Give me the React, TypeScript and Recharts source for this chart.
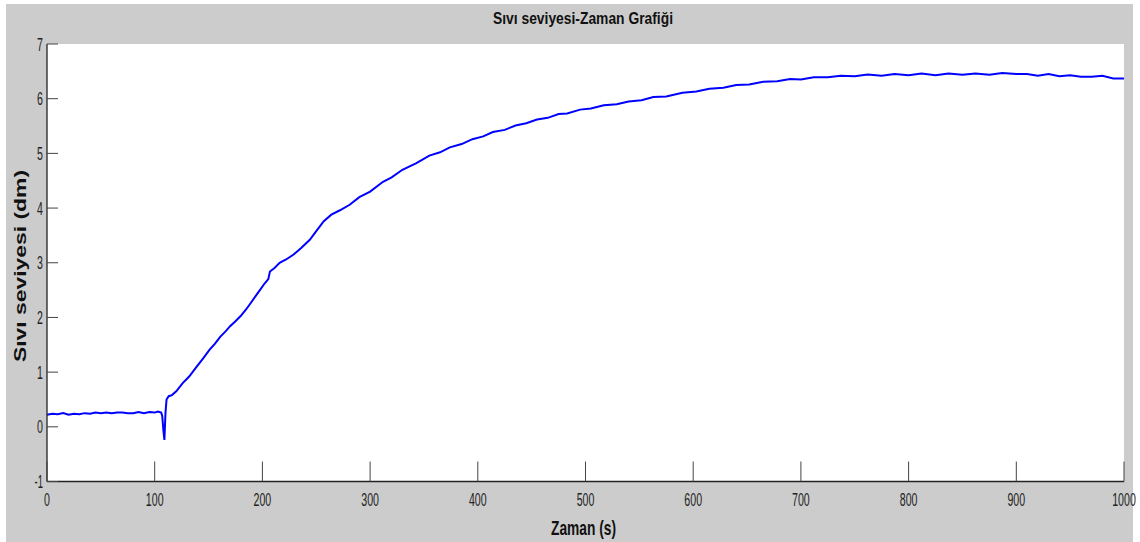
import React from "react";
import { LineChart, Line, XAxis, YAxis, CartesianGrid } from "recharts";

const times: number[] = [
  0, 5, 10, 15, 20, 25, 30, 35, 40, 45, 50, 55, 60, 65, 70, 75, 80, 85, 90, 95, 100, 103, 106, 107, 108, 109, 110, 111, 113, 116,
  120, 126, 132, 139, 145, 151, 156, 161, 166, 170, 175, 180, 185, 189, 194, 198, 202, 205.5, 207, 211, 216, 222, 229, 236, 244,
  250, 257, 264, 272, 281, 290, 300, 312, 320, 330, 343, 355, 365, 374, 385, 395, 405, 414, 425, 435, 445, 455, 465, 475, 483,
  495, 505, 517, 529, 540, 552, 563, 575, 590, 603, 615, 628, 640, 652, 665, 678, 690, 700, 712, 725, 737, 750, 762, 775, 787,
  800, 812, 825, 837, 850, 862, 875, 887, 900, 910, 920, 930, 940, 950, 960, 970, 980, 990, 1000,
];

const levels: number[] = [
  0.22, 0.24, 0.23, 0.25, 0.22, 0.24, 0.23, 0.25, 0.24, 0.26, 0.25, 0.26, 0.25, 0.26, 0.26, 0.25, 0.25, 0.27, 0.25, 0.27, 0.26, 0.28, 0.26, 0.2, -0.05, -0.24, 0.25, 0.5, 0.56, 0.58,
  0.65, 0.8, 0.92, 1.1, 1.25, 1.41, 1.52, 1.65, 1.75, 1.84, 1.93, 2.03, 2.15, 2.26, 2.4, 2.51, 2.62, 2.7, 2.84, 2.9, 3.0, 3.06, 3.15, 3.27, 3.42,
  3.58, 3.76, 3.88, 3.96, 4.06, 4.2, 4.3, 4.48, 4.56, 4.7, 4.82, 4.96, 5.02, 5.11, 5.17, 5.26, 5.31, 5.39, 5.43, 5.51, 5.55, 5.62, 5.65, 5.72, 5.73,
  5.8, 5.82, 5.88, 5.9, 5.95, 5.97, 6.03, 6.04, 6.11, 6.13, 6.18, 6.2, 6.25, 6.26, 6.31, 6.32, 6.36, 6.35, 6.39, 6.39, 6.42, 6.41, 6.44, 6.42, 6.45,
  6.43, 6.46, 6.43, 6.46, 6.44, 6.46, 6.44, 6.47, 6.45, 6.45, 6.42, 6.45, 6.41, 6.43, 6.4, 6.4, 6.42, 6.37, 6.37,
];

const xTicks: number[] = [0, 100, 200, 300, 400, 500, 600, 700, 800, 900, 1000];
const yTicks: number[] = [-1, 0, 1, 2, 3, 4, 5, 6, 7];

const titleText = "Sıvı seviyesi-Zaman Grafiği";
const xLabelText = "Zaman (s)";
const yLabelText = "Sıvı seviyesi (dm)";

const data = times.map((t, i) => ({ t, v: levels[i] }));

const FONT = "'Liberation Sans', Arial, Helvetica, sans-serif";
const TICK_COLOR = "#444";
const AXIS_COLOR = "#222";

const labelWidth = (s: string) => {
  let w = 0;
  for (const c of s) w += c === "-" ? 2.5 : 5.9;
  return w;
};

const BottomTick = (props: any) => {
  const { x, y, payload } = props;
  const s = String(payload.value);
  return (
    <g>
      <line x1={x} x2={x} y1={y} y2={y - 20} stroke={TICK_COLOR} strokeWidth={1} />
      <text
        x={x}
        y={y + 24}
        textAnchor="middle"
        fontFamily={FONT}
        fontSize={18}
        fill="#222"
        textLength={labelWidth(s)}
        lengthAdjust="spacingAndGlyphs"
      >
        {s}
      </text>
    </g>
  );
};

const TopTick = (props: any) => {
  const { x, y } = props;
  return <line x1={x} x2={x} y1={y} y2={y + 20} stroke={TICK_COLOR} strokeWidth={1} />;
};

const LeftTick = (props: any) => {
  const { x, y, payload } = props;
  const s = String(payload.value);
  return (
    <g>
      <line x1={x} x2={x + 11} y1={y} y2={y} stroke={TICK_COLOR} strokeWidth={1} />
      <text
        x={x - 4}
        y={y + 6.5}
        textAnchor="end"
        fontFamily={FONT}
        fontSize={18}
        fill="#222"
        textLength={labelWidth(s)}
        lengthAdjust="spacingAndGlyphs"
      >
        {s}
      </text>
    </g>
  );
};

const RightTick = (props: any) => {
  const { x, y } = props;
  return <line x1={x} x2={x - 11} y1={y} y2={y} stroke={TICK_COLOR} strokeWidth={1} />;
};

export default function App() {
  return (
    <div style={{ position: "absolute", left: 0, top: 0, width: 1140, height: 542, background: "#ffffff", overflow: "hidden" }}>
      <div style={{ position: "absolute", left: 6, top: 4, width: 1127, height: 538, background: "#cccccc" }} />
      <div style={{ position: "absolute", left: 0, top: 0 }}>
        <LineChart width={1140} height={542} data={data} margin={{ top: 44, right: 16, bottom: 0, left: 0 }}>
          <CartesianGrid fill="#ffffff" horizontal={false} vertical={false} />
          <XAxis
            xAxisId="bottom"
            dataKey="t"
            type="number"
            domain={[0, 1000]}
            ticks={xTicks}
            orientation="bottom"
            height={60.5}
            tickSize={0}
            tickMargin={0}
            tickLine={false}
            axisLine={{ stroke: AXIS_COLOR, strokeWidth: 1.3 }}
            tick={<BottomTick />}
            interval={0}
          />
          <XAxis
            xAxisId="top"
            dataKey="t"
            type="number"
            domain={[0, 1000]}
            ticks={xTicks}
            orientation="top"
            height={0}
            tickSize={0}
            tickMargin={0}
            tickLine={false}
            axisLine={{ stroke: AXIS_COLOR, strokeWidth: 1.3 }}
            tick={<TopTick />}
            interval={0}
          />
          <YAxis
            yAxisId="left"
            type="number"
            domain={[-1, 7]}
            ticks={yTicks}
            orientation="left"
            width={47}
            tickSize={0}
            tickMargin={0}
            tickLine={false}
            axisLine={{ stroke: AXIS_COLOR, strokeWidth: 1.3 }}
            tick={<LeftTick />}
            interval={0}
          />
          <YAxis
            yAxisId="right"
            type="number"
            domain={[-1, 7]}
            ticks={yTicks}
            orientation="right"
            width={0}
            tickSize={0}
            tickMargin={0}
            tickLine={false}
            axisLine={{ stroke: AXIS_COLOR, strokeWidth: 1.3 }}
            tick={<RightTick />}
            interval={0}
          />
          <Line
            xAxisId="bottom"
            yAxisId="left"
            type="linear"
            dataKey="v"
            stroke="#0000ff"
            strokeWidth={2}
            dot={false}
            activeDot={false}
            isAnimationActive={false}
          />
        </LineChart>
      </div>
      <svg width={1140} height={542} style={{ position: "absolute", left: 0, top: 0, pointerEvents: "none" }}>
        <text
          x={583}
          y={24}
          textAnchor="middle"
          fontFamily={FONT}
          fontWeight="bold"
          fontSize={16.5}
          fill="#111"
          textLength={180}
          lengthAdjust="spacingAndGlyphs"
        >
          {titleText}
        </text>
        <text
          x={583.5}
          y={535}
          textAnchor="middle"
          fontFamily={FONT}
          fontWeight="bold"
          fontSize={21}
          fill="#111"
          textLength={65}
          lengthAdjust="spacingAndGlyphs"
        >
          {xLabelText}
        </text>
        <text
          x={0}
          y={0}
          transform="translate(26, 266) rotate(-90)"
          textAnchor="middle"
          fontFamily={FONT}
          fontWeight="bold"
          fontSize={17}
          fill="#111"
          textLength={192}
          lengthAdjust="spacingAndGlyphs"
        >
          {yLabelText}
        </text>
      </svg>
    </div>
  );
}
